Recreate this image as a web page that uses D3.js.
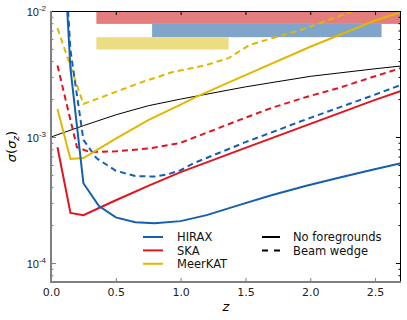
<!DOCTYPE html>
<html>
<head>
<meta charset="UTF-8" />
<title>sigma(sigma_z) against z</title>
<style>
  body { margin: 0; background: #fff; }
  svg { display: block; font-family: "DejaVu Sans", sans-serif; }
</style>
<script src="https://cdn.jsdelivr.net/npm/d3@7"></script>
</head>
<body>
<script>
/* values */
const hiraxZ      = [0.1, 0.15, 0.25, 0.37, 0.5, 0.65, 0.8, 1.0, 1.2, 1.45, 1.7, 1.97, 2.22, 2.48, 2.7];
const hiraxSigma  = [3e-2, 3.5e-3, 4.3e-4, 2.83e-4, 2.3e-4, 2.11e-4, 2.07e-4, 2.15e-4, 2.4e-4, 2.88e-4, 3.45e-4, 4.1e-4, 4.75e-4, 5.5e-4, 6.2e-4];
const hiraxWedgeZ     = [0.1, 0.15, 0.25, 0.35, 0.5, 0.65, 0.8, 0.9, 1.0, 1.1, 1.5, 2.0, 2.5, 2.7];
const hiraxWedgeSigma = [3.6e-2, 4.9e-3, 9.5e-4, 6.8e-4, 5.4e-4, 4.9e-4, 4.85e-4, 5.05e-4, 5.45e-4, 6.2e-4, 9.1e-4, 1.42e-3, 2.17e-3, 2.59e-3];

const skaZ      = [0.05, 0.15, 0.25, 0.5, 0.75, 1.0, 1.5, 2.0, 2.5, 2.7];
const skaSigma  = [8.3e-4, 2.5e-4, 2.4e-4, 3.15e-4, 4.1e-4, 5.27e-4, 8.2e-4, 1.27e-3, 1.97e-3, 2.32e-3];
const skaWedgeZ     = [0.05, 0.2, 0.3, 0.5, 0.75, 0.9, 1.0, 1.2, 1.45, 1.7, 1.97, 2.22, 2.48, 2.7];
const skaWedgeSigma = [3.7e-3, 8.3e-4, 7.6e-4, 7.7e-4, 8.1e-4, 8.6e-4, 9.0e-4, 1.08e-3, 1.36e-3, 1.7e-3, 2.08e-3, 2.45e-3, 2.99e-3, 3.53e-3];

const meerZ      = [0.05, 0.15, 0.25, 0.5, 0.75, 1.0, 1.12, 1.5, 2.0, 2.5, 2.7];
const meerSigma  = [1.67e-3, 6.7e-4, 6.8e-4, 9.7e-4, 1.36e-3, 1.81e-3, 2.08e-3, 3.1e-3, 5.2e-3, 8.4e-3, 9.8e-3];
const meerWedgeZ     = [0.05, 0.25, 0.35, 0.5, 0.68, 0.94, 1.2, 1.37, 1.53, 1.71, 1.97, 2.28, 2.5];
const meerWedgeSigma = [7.3e-3, 1.83e-3, 2.0e-3, 2.28e-3, 2.68e-3, 3.28e-3, 3.73e-3, 4.23e-3, 5.37e-3, 6.1e-3, 7.3e-3, 9.6e-3, 1.15e-2];

/* thin black reference curve */
const refZ     = [0, 0.25, 0.5, 0.75, 1.0, 1.5, 2.0, 2.5, 2.7];
const refSigma = [1.0e-3, 1.23e-3, 1.5e-3, 1.77e-3, 2.0e-3, 2.5e-3, 3.03e-3, 3.48e-3, 3.66e-3];

/* redshift ranges shown as bars along the top: [zStart, zEnd, sigmaTop, sigmaBottom] */
const barNames  = ["SKA", "HIRAX", "MeerKAT"];
const barRanges = [[0.35, 3.0, 1e-2, 7.9e-3], [0.78, 2.55, 7.9e-3, 6.2e-3], [0.35, 1.37, 6.2e-3, 4.95e-3]];

const zTicks = [0, 0.5, 1.0, 1.5, 2.0, 2.5];
const sigmaTicks = [1e-4, 1e-3, 1e-2];
const sigmaExps = ["-4", "-3", "-2"];

const legendNames = ["HIRAX", "SKA", "MeerKAT"];
const styleNames = ["No foregrounds", "Beam wedge"];

const colors = { HIRAX: "#165fae", SKA: "#e0151d", MeerKAT: "#e1b700" };
const barColors = { SKA: "#e47d7e", HIRAX: "#7fa5cb", MeerKAT: "#ecdc82" };

const W = 407, H = 320;
const margin = { top: 11, right: 6, bottom: 38, left: 51 };

const x = d3.scaleLinear().domain([0, 2.7]).range([margin.left, W - margin.right]);
const y = d3.scaleLog().domain([7.07e-5, 1e-2]).range([H - margin.bottom, margin.top]);

const svg = d3.select("body").append("svg")
  .attr("width", W)
  .attr("height", H);

svg.append("clipPath").attr("id", "plot-clip")
  .append("rect")
  .attr("x", x.range()[0]).attr("y", y.range()[1])
  .attr("width", x.range()[1] - x.range()[0])
  .attr("height", y.range()[0] - y.range()[1]);

const plot = svg.append("g").attr("clip-path", "url(#plot-clip)");

/* bars */
plot.selectAll(".bar")
  .data(barRanges)
  .enter()
  .append("rect")
  .attr("class", "bar")
  .attr("x", d => x(d[0]))
  .attr("width", d => x(d[1]) - x(d[0]))
  .attr("y", d => y(d[2]))
  .attr("height", d => y(d[3]) - y(d[2]))
  .attr("fill", (d, i) => barColors[barNames[i]]);

const line = d3.line().x(d => x(d[0])).y(d => y(d[1]));
const zip = (a, b) => a.map((v, i) => [v, b[i]]);

const series = [
  { pts: zip(refZ, refSigma), color: "#000", width: 1, dash: null },
  { pts: zip(meerWedgeZ, meerWedgeSigma), color: colors.MeerKAT, width: 2, dash: "6,4" },
  { pts: zip(skaWedgeZ, skaWedgeSigma), color: colors.SKA, width: 2, dash: "6,4" },
  { pts: zip(hiraxWedgeZ, hiraxWedgeSigma), color: colors.HIRAX, width: 2, dash: "6,4" },
  { pts: zip(meerZ, meerSigma), color: colors.MeerKAT, width: 2, dash: null },
  { pts: zip(skaZ, skaSigma), color: colors.SKA, width: 2, dash: null },
  { pts: zip(hiraxZ, hiraxSigma), color: colors.HIRAX, width: 2, dash: null }
];

plot.selectAll(".curve")
  .data(series)
  .enter()
  .append("path")
  .attr("class", "curve")
  .attr("d", d => line(d.pts))
  .attr("fill", "none")
  .attr("stroke", d => d.color)
  .attr("stroke-width", d => d.width)
  .attr("stroke-dasharray", d => d.dash);

/* minor log ticks */
let minor = [];
for (let e = -5; e <= -3; e++) {
  for (let k = 2; k <= 9; k++) {
    let v = k * Math.pow(10, e);
    if (v > y.domain()[0] && v < y.domain()[1]) minor.push(v);
  }
}

const grey = "#7f7f7f";

/* left axis */
const leftAxis = svg.append("g").attr("transform", `translate(${x.range()[0]},0)`);
leftAxis.call(d3.axisLeft(y).tickValues(sigmaTicks).tickSize(-5).tickSizeOuter(0).tickFormat(""));
leftAxis.append("g").call(d3.axisLeft(y).tickValues(minor).tickSize(-2.5).tickSizeOuter(0).tickFormat(""));
leftAxis.selectAll("line").attr("stroke", grey);
leftAxis.selectAll(".domain").remove();
leftAxis.selectAll(".label")
  .data(sigmaTicks)
  .enter()
  .append("text")
  .attr("class", "label")
  .attr("x", -5)
  .attr("y", d => y(d) + 5)
  .attr("text-anchor", "end")
  .attr("font-size", 11)
  .attr("fill", "#222")
  .each(function (d, i) {
    let t = d3.select(this);
    t.append("tspan").text("10");
    t.append("tspan").attr("dy", -5).attr("font-size", 8).text(sigmaExps[i]);
  });

/* right axis */
const rightAxis = svg.append("g").attr("transform", `translate(${x.range()[1]},0)`);
rightAxis.call(d3.axisRight(y).tickValues(sigmaTicks).tickSize(-5).tickSizeOuter(0).tickFormat(""));
rightAxis.append("g").call(d3.axisRight(y).tickValues(minor).tickSize(-2.5).tickSizeOuter(0).tickFormat(""));
rightAxis.selectAll("line").attr("stroke", "#000");
rightAxis.selectAll(".domain").remove();

/* bottom axis */
const bottomAxis = svg.append("g").attr("transform", `translate(0,${y.range()[0]})`);
bottomAxis.call(d3.axisBottom(x).tickValues(zTicks).tickSize(-4).tickSizeOuter(0).tickPadding(6).tickFormat(d3.format(".1f")));
bottomAxis.selectAll("line").attr("stroke", grey);
bottomAxis.selectAll("text").attr("font-size", 11).attr("fill", "#222").attr("font-family", "DejaVu Sans");
bottomAxis.selectAll(".domain").remove();

/* top axis */
const topAxis = svg.append("g").attr("transform", `translate(0,${y.range()[1]})`);
topAxis.call(d3.axisTop(x).tickValues(zTicks).tickSize(-4).tickSizeOuter(0).tickFormat(""));
topAxis.selectAll("line").attr("stroke", "#000");
topAxis.selectAll(".domain").remove();

/* spines */
svg.append("line")
  .attr("x1", x.range()[0]).attr("x2", x.range()[1])
  .attr("y1", y.range()[1] + 0.5).attr("y2", y.range()[1] + 0.5)
  .attr("stroke", "#000").attr("stroke-width", 1);
svg.append("line")
  .attr("x1", x.range()[1] - 0.5).attr("x2", x.range()[1] - 0.5)
  .attr("y1", y.range()[1]).attr("y2", y.range()[0])
  .attr("stroke", "#000").attr("stroke-width", 1);
svg.append("line")
  .attr("x1", x.range()[0]).attr("x2", x.range()[0])
  .attr("y1", y.range()[1]).attr("y2", y.range()[0] + 1)
  .attr("stroke", grey).attr("stroke-width", 2);
svg.append("line")
  .attr("x1", x.range()[0] - 1).attr("x2", x.range()[1])
  .attr("y1", y.range()[0]).attr("y2", y.range()[0])
  .attr("stroke", grey).attr("stroke-width", 2);

/* axis titles */
svg.append("text")
  .attr("x", (x.range()[0] + x.range()[1]) / 2)
  .attr("y", 311)
  .attr("text-anchor", "middle")
  .attr("font-size", 13)
  .attr("font-style", "italic")
  .text("z");

const yTitle = svg.append("text")
  .attr("transform", `translate(16,${(y.range()[0] + y.range()[1]) / 2}) rotate(-90)`)
  .attr("text-anchor", "middle")
  .attr("font-size", 13);
yTitle.append("tspan").attr("font-style", "italic").text("σ");
yTitle.append("tspan").text("(");
yTitle.append("tspan").attr("font-style", "italic").text("σ");
yTitle.append("tspan").attr("font-style", "italic").attr("font-size", 9).attr("dy", 3).text("z");
yTitle.append("tspan").attr("dy", -3).text(")");

/* legend */
const legend = svg.append("g").attr("transform", "translate(143,237)");
const rowH = 13.4;

legendNames.forEach((name, i) => {
  legend.append("line")
    .attr("x1", 0).attr("x2", 20)
    .attr("y1", i * rowH).attr("y2", i * rowH)
    .attr("stroke", colors[name]).attr("stroke-width", 2);
  legend.append("text")
    .attr("x", 34).attr("y", i * rowH + 4.3)
    .attr("font-size", 11.5)
    .attr("fill", "#111")
    .text(name);
});

styleNames.forEach((name, i) => {
  legend.append("line")
    .attr("x1", 119).attr("x2", 137)
    .attr("y1", i * rowH).attr("y2", i * rowH)
    .attr("stroke", "#000").attr("stroke-width", 2)
    .attr("stroke-dasharray", i === 1 ? "6,6" : null);
  legend.append("text")
    .attr("x", 150).attr("y", i * rowH + 4.3)
    .attr("font-size", 11.5)
    .attr("fill", "#111")
    .text(name);
});
</script>
</body>
</html>
